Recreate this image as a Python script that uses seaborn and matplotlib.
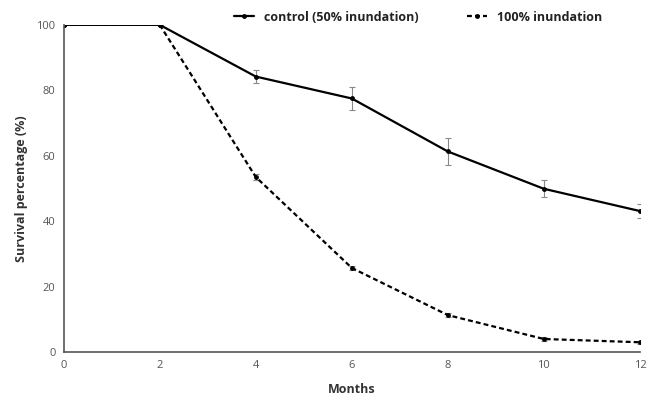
import matplotlib
matplotlib.use("Agg")
import matplotlib.pyplot as plt
import seaborn as sns
import pandas as pd
import numpy as np

months = [0, 2, 4, 6, 8, 10, 12]
control = [100, 100, 84.2, 77.5, 61.3, 49.9, 43.1]
control_err = [0, 0, 2.0, 3.5, 4.2, 2.6, 2.2]
full = [100, 100, 53.5, 25.7, 11.3, 4.0, 3.0]
full_err = [0, 0, 0.8, 0.6, 0.6, 0.6, 0.5]
series_names = ["control (50% inundation)", "100% inundation"]

sns.set_theme(style="white")
plt.rcParams['font.family'] = ['Open Sans', 'DejaVu Sans']

df = pd.DataFrame({
    "Months": months * 2,
    "Survival": control + full,
    "Series": [series_names[0]] * len(months) + [series_names[1]] * len(months),
})

fig = plt.figure(figsize=(6.57, 4.01), dpi=100)
ax = fig.add_axes([0.097, 0.122, 0.877, 0.816])

ax.errorbar(months, control, yerr=control_err, fmt="none", ecolor="#888888",
            elinewidth=0.8, capsize=2, capthick=0.8, zorder=1)
ax.errorbar(months, full, yerr=full_err, fmt="none", ecolor="#888888",
            elinewidth=0.8, capsize=2, capthick=0.8, zorder=1)

sns.lineplot(data=df, x="Months", y="Survival", style="Series",
             dashes={series_names[0]: "", series_names[1]: (2.2, 1.4)},
             markers={series_names[0]: "o", series_names[1]: "o"},
             color="black", linewidth=1.6, markersize=3.5,
             markeredgewidth=0, ax=ax, zorder=2)

ax.set_xlim(0, 12)
ax.set_ylim(0, 100)
ax.set_xticks(range(0, 13, 2))
ax.set_yticks(range(0, 101, 20))
ax.tick_params(axis="both", labelsize=8, labelcolor="#555555", length=0, pad=6)
sns.despine(ax=ax)
for s in ["left", "bottom"]:
    ax.spines[s].set_color("#555555")
    ax.spines[s].set_linewidth(1.2)

ax.set_xlabel("Months", fontsize=9, fontweight="bold", color="#333333", labelpad=8)
ax.set_ylabel("Survival percentage (%)", fontsize=9, fontweight="bold", color="#333333", labelpad=6)

leg = ax.legend(loc="lower center", bbox_to_anchor=(0.615, 0.985), ncol=2, frameon=False,
                fontsize=9, handlelength=1.6, columnspacing=3.8, borderaxespad=0.1)
for t in leg.get_texts():
    t.set_fontweight("bold")
    t.set_color("#222222")

fig.savefig("out.png", dpi=100)
